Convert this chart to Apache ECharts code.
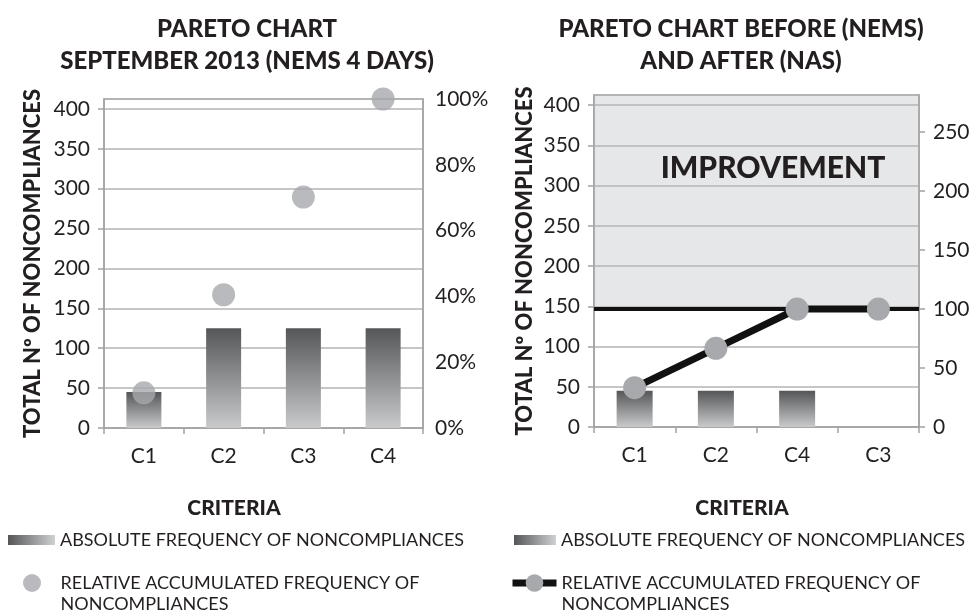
<!DOCTYPE html>
<html>
<head>
<meta charset="utf-8">
<script src="https://cdn.jsdelivr.net/npm/echarts@6/dist/echarts.min.js"></script>
<style>html,body{margin:0;padding:0;background:#fff}#c{width:973px;height:613px}</style>
</head>
<body>
<div id="c"></div>
<script>
// ---- data ----
var leftCategories = ['C1', 'C2', 'C3', 'C4'];
var leftCounts = [45, 125, 125, 125];
var leftCumPct = [10.7, 40.5, 70.2, 100];

var rightCategories = ['C1', 'C2', 'C4', 'C3'];
var rightCounts = [45, 45, 45, 0];
var rightCumPct = [33.3, 66.7, 100, 100];

var countAxisMax = 412.5;     // left axes (labels 0..400 step 50)
var pctAxisMaxLeft = 100;     // left chart right axis (0%..100% step 20)
var pctAxisMaxRight = 281.4;  // right chart right axis (labels 0..250 step 50)
var improvementLevel = 100;

var titleLeft = 'PARETO CHART\nSEPTEMBER 2013 (NEMS 4 DAYS)';
var titleRight = 'PARETO CHART BEFORE (NEMS)\nAND AFTER (NAS)';
var yName = 'TOTAL Nº OF NONCOMPLIANCES';
var xName = 'CRITERIA';
var absLabel = 'ABSOLUTE FREQUENCY OF NONCOMPLIANCES';
var relLabel = 'RELATIVE ACCUMULATED FREQUENCY OF\nNONCOMPLIANCES';

// ---- styles ----
var FONT = 'Lato';
var TXT = '#231f20';
var GRID = '#b3b3b3';
var AXIS = '#a3a3a3';
var MARK = '#a7a9ac';
var barGrad = {type:'linear', x:0, y:0, x2:0, y2:1, colorStops:[{offset:0,color:'#555658'},{offset:1,color:'#c9cacc'}]};
var legGrad = {type:'linear', x:0, y:0, x2:1, y2:0, colorStops:[{offset:0,color:'#555658'},{offset:1,color:'#cfd0d2'}]};

function catAxis(grid, data) {
  return {
    type:'category', gridIndex:grid, data:data,
    axisLine:{show:true, lineStyle:{color:AXIS, width:1.5}},
    axisTick:{show:true, length:6, lineStyle:{color:AXIS, width:1.5}},
    axisLabel:{fontFamily:FONT, fontSize:21, color:TXT, margin:18},
    splitLine:{show:false}
  };
}
function valAxis(grid, pos, max, interval, opts) {
  var a = {
    type:'value', gridIndex:grid, position:pos, min:0, max:max, interval:interval,
    axisLine:{show:true, lineStyle:{color:AXIS, width:1.5}},
    axisTick:{show:true, length:6, lineStyle:{color:AXIS, width:1.5}},
    axisLabel:{fontFamily:FONT, fontSize:21, color:TXT, margin:14, showMaxLabel:false},
    splitLine:{show:false}
  };
  for (var k in opts) a[k] = opts[k];
  return a;
}
var yNameStyle = {fontFamily:FONT, fontSize:22, fontWeight:900, color:TXT};
var legText = {fontFamily:FONT, fontSize:18, color:TXT, lineHeight:21};
var boldTitle = {fontFamily:FONT, fontSize:24, fontWeight:900, color:TXT, lineHeight:32};

var option = {
  backgroundColor:'#fff',
  animation:false,
  title:[
    {text:titleLeft, left:242, top:8, textAlign:'center', textStyle:boldTitle},
    {text:titleRight, left:736, top:8, textAlign:'center', textStyle:boldTitle},
    {text:xName, left:229, top:493, textAlign:'center', textStyle:{fontFamily:FONT, fontSize:21, fontWeight:900, color:TXT}},
    {text:xName, left:737, top:493, textAlign:'center', textStyle:{fontFamily:FONT, fontSize:21, fontWeight:900, color:TXT}},
    {text:'IMPROVEMENT', left:768, top:148, textAlign:'center', textStyle:{fontFamily:FONT, fontSize:30, fontWeight:900, color:TXT}}
  ],
  grid:[
    {left:104, right:550, top:99, bottom:185, show:true, borderColor:AXIS, borderWidth:1.5, backgroundColor:'transparent'},
    {left:594, right:54, top:95, bottom:186, show:true, borderColor:AXIS, borderWidth:1.5, backgroundColor:'transparent'}
  ],
  xAxis:[catAxis(0, leftCategories), catAxis(1, rightCategories)],
  yAxis:[
    valAxis(0, 'left', countAxisMax, 50, {name:yName, nameLocation:'middle', nameGap:60, nameTextStyle:yNameStyle,
      splitLine:{show:true, lineStyle:{color:GRID, width:1.5}}}),
    valAxis(0, 'right', pctAxisMaxLeft, 20, {axisTick:{show:false},
      axisLabel:{fontFamily:FONT, fontSize:21, color:TXT, margin:12, formatter:'{value}%'}}),
    valAxis(1, 'left', countAxisMax, 50, {name:yName, nameLocation:'middle', nameGap:58, nameTextStyle:yNameStyle,
      splitLine:{show:true, lineStyle:{color:GRID, width:1.5}}}),
    valAxis(1, 'right', pctAxisMaxRight, 50, {})
  ],
  legend:[
    {left:8, top:529.5, padding:0, itemWidth:47, itemHeight:10, textStyle:legText,
      formatter:function(){return absLabel;},
      data:[{name:'absL', icon:'rect', itemStyle:{color:legGrad}}]},
    {left:23, top:551.5, padding:0, itemWidth:47, itemHeight:18, textStyle:legText,
      formatter:function(){return '\n' + relLabel;},
      data:[{name:'relL', icon:'circle', itemStyle:{color:MARK}}]},
    {left:514, top:529.5, padding:0, itemWidth:42, itemHeight:10, textStyle:legText,
      formatter:function(){return absLabel;},
      data:[{name:'absR', icon:'rect', itemStyle:{color:legGrad}}]},
    {left:509, top:551.5, padding:0, itemWidth:44, itemHeight:22, textStyle:legText,
      formatter:function(){return '\n' + relLabel;},
      data:[{name:'relR', itemStyle:{color:MARK}, lineStyle:{color:'#111', width:7}}]}
  ],
  series:[
    {name:'absL', type:'bar', xAxisIndex:0, yAxisIndex:0, data:leftCounts, barWidth:35,
      itemStyle:{color:barGrad}},
    {name:'relL', type:'scatter', xAxisIndex:0, yAxisIndex:1, data:leftCumPct, symbol:'circle', symbolSize:23,
      itemStyle:{color:MARK}, z:3},
    {name:'absR', type:'bar', xAxisIndex:1, yAxisIndex:2, data:rightCounts, barWidth:36,
      itemStyle:{color:barGrad}},
    {name:'relR', type:'line', xAxisIndex:1, yAxisIndex:3, data:rightCumPct, symbol:'circle', symbolSize:23,
      showSymbol:true, lineStyle:{color:'#111', width:7}, itemStyle:{color:MARK}, z:4,
      markArea:{silent:true, z:1, itemStyle:{color:'rgba(180,182,185,0.33)'},
        data:[[{yAxis:improvementLevel}, {yAxis:pctAxisMaxRight}]]},
      markLine:{silent:true, z:3, symbol:['none','none'], label:{show:false},
        lineStyle:{color:'#111', width:4, type:'solid'},
        data:[{yAxis:improvementLevel}]}}
  ]
};
var chart = echarts.init(document.getElementById('c'), null, {renderer:'canvas'});
chart.setOption(option);
</script>
</body>
</html>
